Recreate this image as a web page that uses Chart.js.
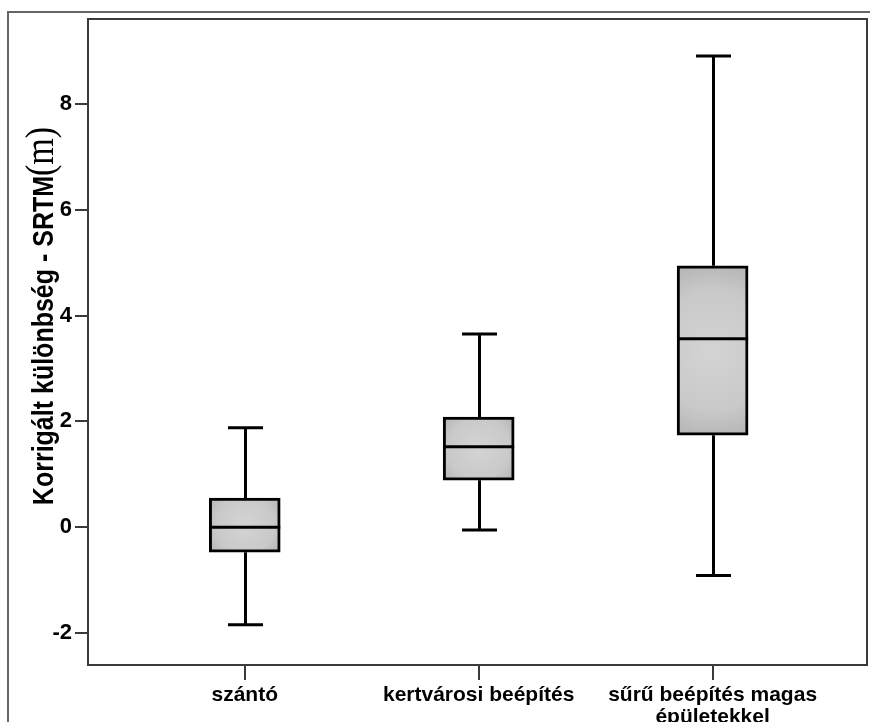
<!DOCTYPE html>
<html>
<head>
<meta charset="utf-8">
<script src="https://cdn.jsdelivr.net/npm/chart.js@4.4.1/dist/chart.umd.min.js"></script>
<style>
  html, body { margin: 0; padding: 0; background: #fff; }
  #box { position: absolute; left: 0; top: 0; width: 870px; height: 722px; }
</style>
</head>
<body>
<div id="box"><canvas id="boxChart" width="870" height="722"></canvas></div>
<script>
// categories and box plot statistics
var categories = ['szántó', 'kertvárosi beépítés', ['sűrű beépítés magas', 'épületekkel']];
var positions = [1, 2, 3];
var whiskerLow = [-1.84, -0.05, -0.91];
var quartile1 = [-0.47, 0.89, 1.74];
var medians = [0.0, 1.52, 3.56];
var quartile3 = [0.55, 2.08, 4.94];
var whiskerHigh = [1.88, 3.65, 8.90];
var yTicks = [-2, 0, 2, 4, 6, 8];

var titleMain = 'Korrigált különbség - SRTM';
var titleUnit = '(m)';

var BOX_W = 71;
var CAP_W = 35;

function boxFill(ctx) {
	var chart = ctx.chart;
	if (!chart.chartArea || ctx.raw === undefined) return '#c4c4c4';
	var xs = chart.scales.x, ys = chart.scales.y;
	var cx = xs.getPixelForValue(ctx.raw.x);
	var top = ys.getPixelForValue(ctx.raw.y[1]);
	var bot = ys.getPixelForValue(ctx.raw.y[0]);
	var cy = (top + bot) / 2;
	var r = Math.sqrt(Math.pow(BOX_W / 2, 2) + Math.pow((bot - top) / 2, 2));
	var g = chart.ctx.createRadialGradient(cx, cy, 0, cx, cy, r);
	g.addColorStop(0, '#d4d4d4');
	g.addColorStop(0.65, '#c9c9c9');
	g.addColorStop(1, '#b3b3b3');
	return g;
}

/*-----whiskers, medians, frames, title-----*/
var boxExtras = {
	id: 'boxExtras',
	beforeDatasetsDraw: function(chart) {
		var ctx = chart.ctx, xs = chart.scales.x, ys = chart.scales.y;
		ctx.save();
		ctx.strokeStyle = '#000';
		ctx.lineWidth = 3;
		positions.forEach(function(p, i) {
			var x = Math.round(xs.getPixelForValue(p)) + 0.5;
			var yHi = ys.getPixelForValue(whiskerHigh[i]);
			var yLo = ys.getPixelForValue(whiskerLow[i]);
			ctx.beginPath();
			ctx.moveTo(x, yHi); ctx.lineTo(x, ys.getPixelForValue(quartile3[i]));
			ctx.moveTo(x, yLo); ctx.lineTo(x, ys.getPixelForValue(quartile1[i]));
			ctx.moveTo(x - CAP_W / 2, yHi); ctx.lineTo(x + CAP_W / 2, yHi);
			ctx.moveTo(x - CAP_W / 2, yLo); ctx.lineTo(x + CAP_W / 2, yLo);
			ctx.stroke();
		});
		ctx.restore();
	},
	afterDatasetsDraw: function(chart) {
		var ctx = chart.ctx, xs = chart.scales.x, ys = chart.scales.y;
		ctx.save();
		ctx.strokeStyle = '#000';
		ctx.lineWidth = 3;
		positions.forEach(function(p, i) {
			var x = xs.getPixelForValue(p);
			var y = ys.getPixelForValue(medians[i]);
			ctx.beginPath();
			ctx.moveTo(x - BOX_W / 2, y); ctx.lineTo(x + BOX_W / 2, y);
			ctx.stroke();
		});
		ctx.restore();
	},
	afterDraw: function(chart) {
		var ctx = chart.ctx, a = chart.chartArea;
		ctx.save();
		// plot frame
		ctx.strokeStyle = '#3a3a3a';
		ctx.lineWidth = 2;
		ctx.strokeRect(a.left, a.top, a.right - a.left, a.bottom - a.top);
		// outer frame
		ctx.strokeStyle = '#666';
		ctx.beginPath();
		ctx.moveTo(8, 722); ctx.lineTo(8, 12); ctx.lineTo(870, 12);
		ctx.stroke();
		// y axis title, mixed fonts
		ctx.fillStyle = '#000';
		ctx.textBaseline = 'alphabetic';
		ctx.textAlign = 'left';
		ctx.font = 'bold 25px "Liberation Sans", Arial, sans-serif';
		var w1 = ctx.measureText(titleMain).width;
		ctx.font = '34px "Liberation Serif", "Times New Roman", serif';
		var w2 = ctx.measureText(titleUnit).width;
		var start = 316 + (w1 + w2) / 2;
		ctx.translate(53, start);
		ctx.rotate(-Math.PI / 2);
		ctx.scale(1, 1.15);
		ctx.font = 'bold 25px "Liberation Sans", Arial, sans-serif';
		ctx.fillText(titleMain, 0, 0);
		ctx.font = '34px "Liberation Serif", "Times New Roman", serif';
		ctx.fillText(titleUnit, w1, 0);
		ctx.restore();
	}
};

var tickFont = { family: '"Liberation Sans", Arial, sans-serif', size: 22, weight: 'bold' };

new Chart(document.getElementById('boxChart').getContext('2d'), {
	type: 'bar',
	data: {
		datasets: [{
			data: positions.map(function(p, i) { return { x: p, y: [quartile1[i], quartile3[i]] }; }),
			backgroundColor: boxFill,
			borderColor: '#000',
			borderWidth: 3,
			borderSkipped: false,
			barThickness: BOX_W
		}]
	},
	options: {
		responsive: false,
		devicePixelRatio: 1,
		animation: false,
		layout: { padding: { top: 19, right: 3, left: 0, bottom: 0 } },
		plugins: {
			legend: { display: false },
			tooltip: { enabled: false },
			title: { display: false }
		},
		scales: {
			x: {
				type: 'linear',
				min: 0.33,
				max: 3.66,
				offset: false,
				afterBuildTicks: function(scale) {
					scale.ticks = positions.map(function(v) { return { value: v }; });
				},
				afterFit: function(scale) { scale.height = 57; },
				grid: { offset: false, drawOnChartArea: false, drawTicks: true, tickLength: 15, color: '#3a3a3a', lineWidth: 2 },
				border: { display: true, color: '#3a3a3a', width: 2 },
				ticks: {
					autoSkip: false,
					maxRotation: 0,
					padding: 4,
					color: '#000',
					font: { family: tickFont.family, size: 21, weight: 'bold', lineHeight: 1.05 },
					callback: function(v) {
						var i = positions.indexOf(v);
						return i >= 0 ? categories[i] : '';
					}
				}
			},
			y: {
				min: -2.6,
				max: 9.6,
				afterBuildTicks: function(scale) {
					scale.ticks = yTicks.map(function(v) { return { value: v }; });
				},
				afterFit: function(scale) { scale.width = 88; },
				grid: { drawOnChartArea: false, drawTicks: true, tickLength: 13, color: '#3a3a3a', lineWidth: 2 },
				border: { display: true, color: '#3a3a3a', width: 2 },
				ticks: {
					padding: 3,
					color: '#000',
					font: tickFont
				}
			}
		}
	},
	plugins: [boxExtras]
});
</script>
</body>
</html>
